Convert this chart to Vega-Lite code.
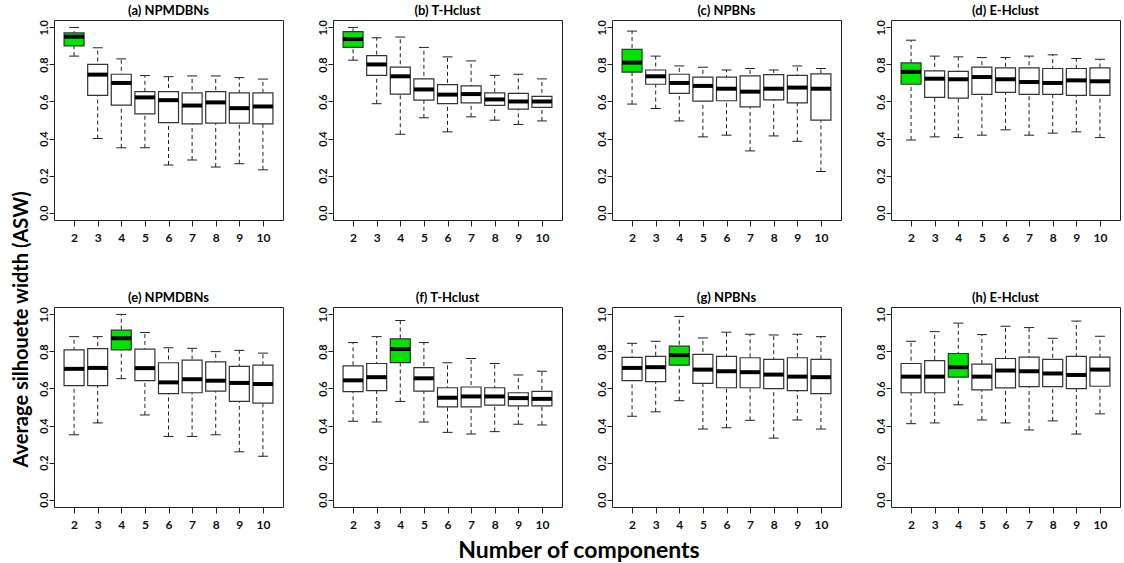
{
  "$schema": "https://vega.github.io/schema/vega-lite/v6.json",
  "background": "white",
  "padding": {"left": 11, "top": 4, "right": 2, "bottom": 2},
  "config": {
    "font": "Lato",
    "view": {"stroke": "#222", "strokeWidth": 1},
    "axis": {"grid": false, "domain": false, "tickColor": "#222", "labelColor": "#111", "labelFont": "Lato", "labelFontWeight": "bold"},
    "axisY": {"title": null, "values": [0, 0.2, 0.4, 0.6, 0.8, 1.0], "format": ".1f", "labelAngle": 270, "labelAlign": "center", "labelBaseline": "alphabetic", "labelOverlap": false, "labelBound": false, "labelFontSize": 11, "tickSize": 5, "labelPadding": 2},
    "title": {"font": "Lato", "fontWeight": "bold", "color": "#000"}
  },
  "title": {"text": "Average silhouete width (ASW)", "orient": "left", "anchor": "middle", "fontSize": 20, "offset": 6, "dx": -46},
  "vconcat": [
    {
      "title": {"text": "Number of components", "orient": "bottom", "anchor": "middle", "fontSize": 23, "offset": 9},
      "data": {"values": [
        {"panel":"(a) NPMDBNs","k":"2","low":0.845,"q1":0.90,"med":0.95,"q3":0.97,"high":1.0,"best":"yes"},
        {"panel":"(a) NPMDBNs","k":"3","low":0.40,"q1":0.633,"med":0.745,"q3":0.80,"high":0.89,"best":"no"},
        {"panel":"(a) NPMDBNs","k":"4","low":0.35,"q1":0.58,"med":0.70,"q3":0.747,"high":0.83,"best":"no"},
        {"panel":"(a) NPMDBNs","k":"5","low":0.35,"q1":0.533,"med":0.622,"q3":0.653,"high":0.74,"best":"no"},
        {"panel":"(a) NPMDBNs","k":"6","low":0.257,"q1":0.486,"med":0.607,"q3":0.653,"high":0.734,"best":"no"},
        {"panel":"(a) NPMDBNs","k":"7","low":0.284,"q1":0.479,"med":0.578,"q3":0.647,"high":0.738,"best":"no"},
        {"panel":"(a) NPMDBNs","k":"8","low":0.246,"q1":0.483,"med":0.595,"q3":0.653,"high":0.738,"best":"no"},
        {"panel":"(a) NPMDBNs","k":"9","low":0.264,"q1":0.483,"med":0.564,"q3":0.647,"high":0.729,"best":"no"},
        {"panel":"(a) NPMDBNs","k":"10","low":0.231,"q1":0.479,"med":0.573,"q3":0.647,"high":0.721,"best":"no"},
        {"panel":"(b) T-Hclust","k":"2","low":0.823,"q1":0.892,"med":0.937,"q3":0.977,"high":1.0,"best":"yes"},
        {"panel":"(b) T-Hclust","k":"3","low":0.588,"q1":0.741,"med":0.80,"q3":0.848,"high":0.944,"best":"no"},
        {"panel":"(b) T-Hclust","k":"4","low":0.423,"q1":0.64,"med":0.736,"q3":0.785,"high":0.948,"best":"no"},
        {"panel":"(b) T-Hclust","k":"5","low":0.512,"q1":0.607,"med":0.665,"q3":0.722,"high":0.892,"best":"no"},
        {"panel":"(b) T-Hclust","k":"6","low":0.436,"q1":0.588,"med":0.637,"q3":0.691,"high":0.841,"best":"no"},
        {"panel":"(b) T-Hclust","k":"7","low":0.517,"q1":0.593,"med":0.64,"q3":0.684,"high":0.819,"best":"no"},
        {"panel":"(b) T-Hclust","k":"8","low":0.499,"q1":0.579,"med":0.611,"q3":0.646,"high":0.741,"best":"no"},
        {"panel":"(b) T-Hclust","k":"9","low":0.476,"q1":0.559,"med":0.60,"q3":0.644,"high":0.747,"best":"no"},
        {"panel":"(b) T-Hclust","k":"10","low":0.495,"q1":0.568,"med":0.60,"q3":0.628,"high":0.722,"best":"no"},
        {"panel":"(c) NPBNs","k":"2","low":0.586,"q1":0.758,"med":0.81,"q3":0.881,"high":0.98,"best":"yes"},
        {"panel":"(c) NPBNs","k":"3","low":0.562,"q1":0.693,"med":0.736,"q3":0.77,"high":0.845,"best":"no"},
        {"panel":"(c) NPBNs","k":"4","low":0.495,"q1":0.644,"med":0.70,"q3":0.747,"high":0.792,"best":"no"},
        {"panel":"(c) NPBNs","k":"5","low":0.409,"q1":0.602,"med":0.684,"q3":0.732,"high":0.785,"best":"no"},
        {"panel":"(c) NPBNs","k":"6","low":0.418,"q1":0.604,"med":0.669,"q3":0.732,"high":0.77,"best":"no"},
        {"panel":"(c) NPBNs","k":"7","low":0.333,"q1":0.571,"med":0.653,"q3":0.738,"high":0.778,"best":"no"},
        {"panel":"(c) NPBNs","k":"8","low":0.414,"q1":0.609,"med":0.669,"q3":0.745,"high":0.77,"best":"no"},
        {"panel":"(c) NPBNs","k":"9","low":0.385,"q1":0.593,"med":0.675,"q3":0.741,"high":0.792,"best":"no"},
        {"panel":"(c) NPBNs","k":"10","low":0.222,"q1":0.499,"med":0.669,"q3":0.749,"high":0.778,"best":"no"},
        {"panel":"(d) E-Hclust","k":"2","low":0.392,"q1":0.693,"med":0.76,"q3":0.808,"high":0.931,"best":"yes"},
        {"panel":"(d) E-Hclust","k":"3","low":0.409,"q1":0.622,"med":0.723,"q3":0.765,"high":0.845,"best":"no"},
        {"panel":"(d) E-Hclust","k":"4","low":0.405,"q1":0.618,"med":0.72,"q3":0.763,"high":0.841,"best":"no"},
        {"panel":"(d) E-Hclust","k":"5","low":0.418,"q1":0.638,"med":0.732,"q3":0.785,"high":0.837,"best":"no"},
        {"panel":"(d) E-Hclust","k":"6","low":0.447,"q1":0.649,"med":0.72,"q3":0.781,"high":0.837,"best":"no"},
        {"panel":"(d) E-Hclust","k":"7","low":0.418,"q1":0.638,"med":0.705,"q3":0.781,"high":0.845,"best":"no"},
        {"panel":"(d) E-Hclust","k":"8","low":0.429,"q1":0.638,"med":0.70,"q3":0.778,"high":0.852,"best":"no"},
        {"panel":"(d) E-Hclust","k":"9","low":0.436,"q1":0.633,"med":0.714,"q3":0.778,"high":0.832,"best":"no"},
        {"panel":"(d) E-Hclust","k":"10","low":0.405,"q1":0.633,"med":0.709,"q3":0.781,"high":0.828,"best":"no"},
        {"panel":"(e) NPMDBNs","k":"2","low":0.35,"q1":0.615,"med":0.706,"q3":0.809,"high":0.88,"best":"no"},
        {"panel":"(e) NPMDBNs","k":"3","low":0.414,"q1":0.615,"med":0.711,"q3":0.815,"high":0.88,"best":"no"},
        {"panel":"(e) NPMDBNs","k":"4","low":0.653,"q1":0.808,"med":0.871,"q3":0.915,"high":1.0,"best":"yes"},
        {"panel":"(e) NPMDBNs","k":"5","low":0.457,"q1":0.642,"med":0.71,"q3":0.813,"high":0.902,"best":"no"},
        {"panel":"(e) NPMDBNs","k":"6","low":0.341,"q1":0.572,"med":0.633,"q3":0.739,"high":0.82,"best":"no"},
        {"panel":"(e) NPMDBNs","k":"7","low":0.341,"q1":0.577,"med":0.65,"q3":0.753,"high":0.817,"best":"no"},
        {"panel":"(e) NPMDBNs","k":"8","low":0.35,"q1":0.586,"med":0.642,"q3":0.744,"high":0.799,"best":"no"},
        {"panel":"(e) NPMDBNs","k":"9","low":0.258,"q1":0.53,"med":0.63,"q3":0.719,"high":0.806,"best":"no"},
        {"panel":"(e) NPMDBNs","k":"10","low":0.234,"q1":0.521,"med":0.624,"q3":0.726,"high":0.791,"best":"no"},
        {"panel":"(f) T-Hclust","k":"2","low":0.423,"q1":0.583,"med":0.644,"q3":0.722,"high":0.848,"best":"no"},
        {"panel":"(f) T-Hclust","k":"3","low":0.419,"q1":0.588,"med":0.661,"q3":0.735,"high":0.88,"best":"no"},
        {"panel":"(f) T-Hclust","k":"4","low":0.53,"q1":0.74,"med":0.813,"q3":0.868,"high":0.967,"best":"yes"},
        {"panel":"(f) T-Hclust","k":"5","low":0.419,"q1":0.586,"med":0.655,"q3":0.713,"high":0.848,"best":"no"},
        {"panel":"(f) T-Hclust","k":"6","low":0.363,"q1":0.501,"med":0.55,"q3":0.604,"high":0.739,"best":"no"},
        {"panel":"(f) T-Hclust","k":"7","low":0.354,"q1":0.501,"med":0.557,"q3":0.608,"high":0.762,"best":"no"},
        {"panel":"(f) T-Hclust","k":"8","low":0.367,"q1":0.51,"med":0.557,"q3":0.604,"high":0.735,"best":"no"},
        {"panel":"(f) T-Hclust","k":"9","low":0.407,"q1":0.506,"med":0.548,"q3":0.577,"high":0.673,"best":"no"},
        {"panel":"(f) T-Hclust","k":"10","low":0.403,"q1":0.506,"med":0.544,"q3":0.584,"high":0.693,"best":"no"},
        {"panel":"(g) NPBNs","k":"2","low":0.45,"q1":0.642,"med":0.711,"q3":0.768,"high":0.844,"best":"no"},
        {"panel":"(g) NPBNs","k":"3","low":0.474,"q1":0.637,"med":0.715,"q3":0.773,"high":0.855,"best":"no"},
        {"panel":"(g) NPBNs","k":"4","low":0.534,"q1":0.726,"med":0.78,"q3":0.829,"high":0.989,"best":"yes"},
        {"panel":"(g) NPBNs","k":"5","low":0.381,"q1":0.628,"med":0.702,"q3":0.784,"high":0.873,"best":"no"},
        {"panel":"(g) NPBNs","k":"6","low":0.388,"q1":0.604,"med":0.693,"q3":0.773,"high":0.904,"best":"no"},
        {"panel":"(g) NPBNs","k":"7","low":0.428,"q1":0.604,"med":0.688,"q3":0.766,"high":0.893,"best":"no"},
        {"panel":"(g) NPBNs","k":"8","low":0.332,"q1":0.599,"med":0.675,"q3":0.757,"high":0.889,"best":"no"},
        {"panel":"(g) NPBNs","k":"9","low":0.43,"q1":0.588,"med":0.664,"q3":0.766,"high":0.893,"best":"no"},
        {"panel":"(g) NPBNs","k":"10","low":0.381,"q1":0.572,"med":0.661,"q3":0.757,"high":0.88,"best":"no"},
        {"panel":"(h) E-Hclust","k":"2","low":0.41,"q1":0.577,"med":0.664,"q3":0.735,"high":0.855,"best":"no"},
        {"panel":"(h) E-Hclust","k":"3","low":0.414,"q1":0.577,"med":0.664,"q3":0.75,"high":0.907,"best":"no"},
        {"panel":"(h) E-Hclust","k":"4","low":0.512,"q1":0.661,"med":0.715,"q3":0.789,"high":0.953,"best":"yes"},
        {"panel":"(h) E-Hclust","k":"5","low":0.43,"q1":0.593,"med":0.664,"q3":0.731,"high":0.891,"best":"no"},
        {"panel":"(h) E-Hclust","k":"6","low":0.414,"q1":0.603,"med":0.697,"q3":0.762,"high":0.936,"best":"no"},
        {"panel":"(h) E-Hclust","k":"7","low":0.376,"q1":0.61,"med":0.693,"q3":0.769,"high":0.929,"best":"no"},
        {"panel":"(h) E-Hclust","k":"8","low":0.425,"q1":0.61,"med":0.681,"q3":0.757,"high":0.871,"best":"no"},
        {"panel":"(h) E-Hclust","k":"9","low":0.354,"q1":0.599,"med":0.673,"q3":0.773,"high":0.964,"best":"no"},
        {"panel":"(h) E-Hclust","k":"10","low":0.463,"q1":0.612,"med":0.702,"q3":0.769,"high":0.882,"best":"no"}
      ]},
      "facet": {
        "field": "panel", "type": "nominal",
        "sort": ["(a) NPMDBNs","(b) T-Hclust","(c) NPBNs","(d) E-Hclust","(e) NPMDBNs","(f) T-Hclust","(g) NPBNs","(h) E-Hclust"],
        "header": {"title": null, "labelFont": "Lato", "labelFontWeight": "bold", "labelFontSize": 13, "labelPadding": 2, "labelColor": "#000"}
      },
      "columns": 4,
      "spacing": {"row": 47, "column": 32},
      "resolve": {"axis": {"x": "independent", "y": "independent"}},
      "spec": {
        "width": 229,
        "height": 200,
        "encoding": {
          "x": {"field": "k", "type": "ordinal", "sort": ["2","3","4","5","6","7","8","9","10"],
                "scale": {"type": "point", "padding": 0.85},
                "axis": {"title": null, "labelAngle": 0, "labelFontSize": 12, "tickSize": 6, "labelPadding": 6}}
        },
        "layer": [
          {
            "mark": {"type": "rule", "strokeDash": [4, 3], "color": "#222", "strokeWidth": 1},
            "encoding": {
              "y": {"field": "low", "type": "quantitative",
                    "scale": {"domain": [-0.04, 1.04], "nice": false, "zero": false},
                    "axis": {"values": [0, 0.2, 0.4, 0.6, 0.8, 1.0], "labelOverlap": false}},
              "y2": {"field": "high"}
            }
          },
          {
            "mark": {"type": "tick", "thickness": 1, "size": 10, "color": "#222", "opacity": 1},
            "encoding": {"y": {"field": "low", "type": "quantitative", "axis": {"values": [0, 0.2, 0.4, 0.6, 0.8, 1.0], "labelOverlap": false}}}
          },
          {
            "mark": {"type": "tick", "thickness": 1, "size": 10, "color": "#222", "opacity": 1},
            "encoding": {"y": {"field": "high", "type": "quantitative", "axis": {"values": [0, 0.2, 0.4, 0.6, 0.8, 1.0], "labelOverlap": false}}}
          },
          {
            "mark": {"type": "bar", "width": 20, "stroke": "#333", "strokeWidth": 1.2},
            "encoding": {
              "y": {"field": "q1", "type": "quantitative", "axis": {"values": [0, 0.2, 0.4, 0.6, 0.8, 1.0], "labelOverlap": false}},
              "y2": {"field": "q3"},
              "fill": {"field": "best", "type": "nominal", "scale": {"domain": ["yes", "no"], "range": ["#00e400", "#ffffff"]}, "legend": null}
            }
          },
          {
            "mark": {"type": "tick", "thickness": 4, "size": 20, "color": "#000", "opacity": 1},
            "encoding": {"y": {"field": "med", "type": "quantitative", "axis": {"values": [0, 0.2, 0.4, 0.6, 0.8, 1.0], "labelOverlap": false}}}
          }
        ]
      }
    }
  ]
}
